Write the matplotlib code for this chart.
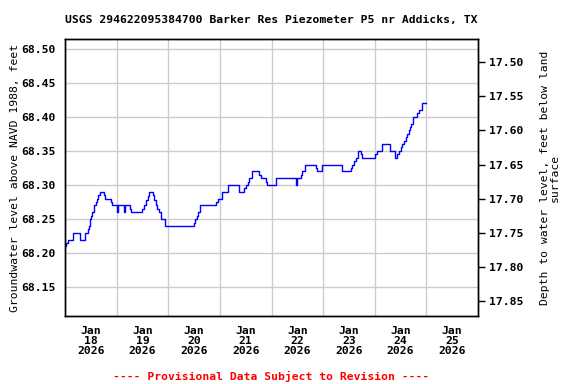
import numpy as np
import pandas as pd
import matplotlib
matplotlib.use('Agg')
import matplotlib.pyplot as plt
import matplotlib.dates as mdates

# readings as step changes: hours after 2026-01-18 00:00 and water level (ft NAVD 1988)
hours = [0, 0.6, 1.5, 3.5, 7.2, 9.1, 10.6, 11.0, 11.7, 12.1, 12.6, 13.3, 13.7, 14.2,
         14.9, 15.5, 16.1, 17.9, 18.5, 21.3, 21.8, 24.2, 24.6, 27.3, 27.7, 30.2, 30.6,
         36.0, 36.8, 37.6, 38.4, 39.1, 40.7, 41.5, 42.3, 43.0, 43.8, 44.6, 46.5, 59.8,
         60.4, 61.2, 62.0, 62.8, 70.2, 71.0, 72.8, 76.0, 81.1, 83.4, 84.2, 85.0, 85.7,
         87.0, 90.4, 91.2, 93.4, 93.9, 98.0, 107.3, 107.7, 109.5, 110.0, 111.4, 116.5,
         117.2, 119.3, 128.8, 132.8, 133.5, 134.4, 135.1, 136.2, 137.5, 138.1, 144.3,
         144.9, 147.6, 151.0, 153.6, 154.4, 155.2, 156.0, 156.7, 157.6, 158.3, 159.1,
         159.8, 160.4, 161.0, 161.9, 163.7, 164.5, 165.8, 167.6]
levels = [68.21, 68.215, 68.22, 68.23, 68.22, 68.23, 68.235, 68.24, 68.25, 68.255, 68.26,
          68.265, 68.27, 68.275, 68.28, 68.285, 68.29, 68.285, 68.28, 68.275, 68.27, 68.26,
          68.27, 68.26, 68.27, 68.265, 68.26, 68.265, 68.27, 68.278, 68.284, 68.29, 68.285,
          68.278, 68.27, 68.265, 68.26, 68.25, 68.24, 68.245, 68.25, 68.255, 68.26, 68.27,
          68.275, 68.28, 68.29, 68.30, 68.29, 68.295, 68.30, 68.305, 68.31, 68.32, 68.315,
          68.31, 68.305, 68.30, 68.31, 68.30, 68.31, 68.315, 68.32, 68.33, 68.325, 68.32,
          68.33, 68.32, 68.325, 68.33, 68.335, 68.34, 68.35, 68.345, 68.34, 68.345, 68.35,
          68.36, 68.35, 68.34, 68.345, 68.35, 68.355, 68.36, 68.365, 68.37, 68.375, 68.38,
          68.385, 68.39, 68.40, 68.405, 68.41, 68.42, 68.42]

day_labels = ['Jan\n18\n2026', 'Jan\n19\n2026', 'Jan\n20\n2026', 'Jan\n21\n2026',
              'Jan\n22\n2026', 'Jan\n23\n2026', 'Jan\n24\n2026', 'Jan\n25\n2026']
left_ticks = [68.15, 68.20, 68.25, 68.30, 68.35, 68.40, 68.45, 68.50]
right_ticks = [17.50, 17.55, 17.60, 17.65, 17.70, 17.75, 17.80, 17.85]
land_surface = 85.98  # elevation minus depth

start = pd.Timestamp('2026-01-18')
times = start + pd.to_timedelta(hours, unit='h')

plt.rcParams['font.family'] = 'DejaVu Sans Mono'
plt.rcParams['font.weight'] = 'bold'
plt.rcParams['font.size'] = 8.2

fig = plt.figure(figsize=(5.76, 3.84), dpi=100)
ax = fig.add_axes([65 / 576, 1 - 316 / 384, 413 / 576, 277 / 384])

ax.plot(times, levels, drawstyle='steps-post', color='#0000ff', lw=1.0)

ax.set_xlim(start, start + pd.Timedelta(days=8))
ylo, yhi = 68.108, 68.514
ax.set_ylim(ylo, yhi)

noon = [start + pd.Timedelta(hours=12 + 24 * i) for i in range(8)]
midnight = [start + pd.Timedelta(days=i) for i in range(1, 8)]
ax.set_xticks(noon)
ax.set_xticklabels(day_labels, linespacing=1.0)
ax.set_xticks(midnight, minor=True)
ax.tick_params(axis='x', which='both', length=0, pad=7)
ax.grid(True, axis='x', which='minor', color='#cccccc', lw=1)

ax.set_yticks(left_ticks)
ax.set_yticklabels([f'{v:.2f}' for v in left_ticks])
ax.tick_params(axis='y', length=0, pad=7)
ax.grid(True, axis='y', which='major', color='#cccccc', lw=1)
ax.set_axisbelow(True)
ax.set_ylabel('Groundwater level above NAVD 1988, feet', labelpad=0.5)

ax2 = ax.twinx()
ax2.set_ylim(land_surface - ylo, land_surface - yhi)
ax2.set_yticks(right_ticks)
ax2.set_yticklabels([f'{v:.2f}' for v in right_ticks])
ax2.tick_params(axis='y', length=5, width=1, pad=3)
ax2.set_ylabel('Depth to water level, feet below land\nsurface',
               rotation=90, labelpad=12, linespacing=1.0)

for a in (ax, ax2):
    for s in a.spines.values():
        s.set_linewidth(1.0)
        s.set_color('black')

fig.text(271.5 / 576, 1 - 20 / 384,
         'USGS 294622095384700 Barker Res Piezometer P5 nr Addicks, TX',
         ha='center', va='center')
fig.text(271.5 / 576, 1 - 376 / 384, '---- Provisional Data Subject to Revision ----',
         ha='center', va='center', color='red')

fig.savefig('out.png', dpi=100)
